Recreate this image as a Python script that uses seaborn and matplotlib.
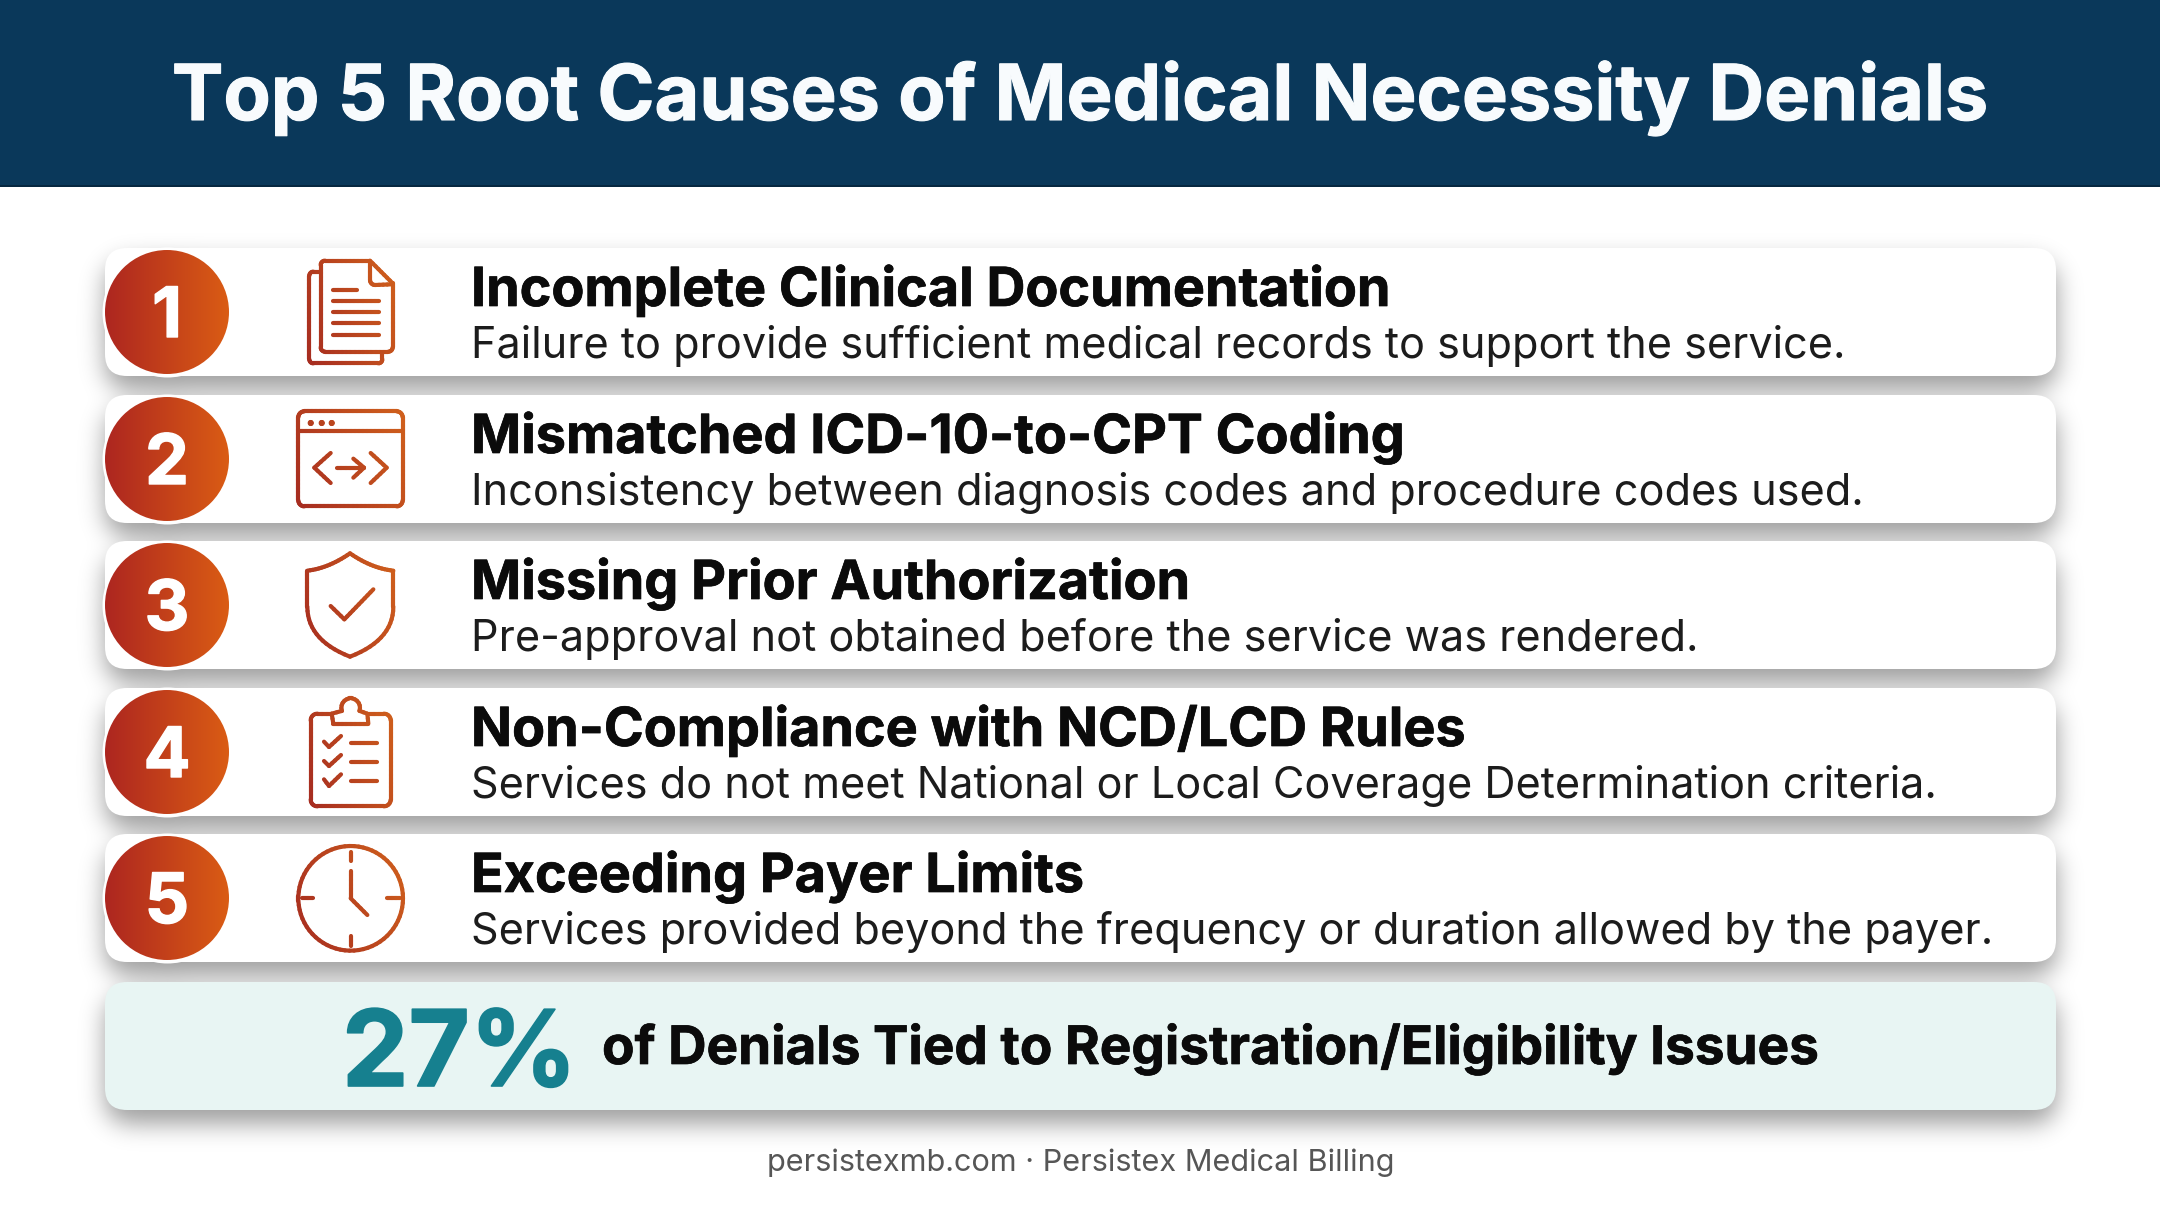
import numpy as np
import pandas as pd
import matplotlib
matplotlib.use("Agg")
import matplotlib.pyplot as plt
import matplotlib.patheffects as pe
import seaborn as sns
from matplotlib.collections import LineCollection
from matplotlib.colors import to_rgb
from matplotlib.patches import Circle, FancyBboxPatch, Rectangle

heading = "Top 5 Root Causes of Medical Necessity Denials"
ranks = [1, 2, 3, 4, 5]
causes = [
    "Incomplete Clinical Documentation",
    "Mismatched ICD-10-to-CPT Coding",
    "Missing Prior Authorization",
    "Non-Compliance with NCD/LCD Rules",
    "Exceeding Payer Limits",
]
details = [
    "Failure to provide sufficient medical records to support the service.",
    "Inconsistency between diagnosis codes and procedure codes used.",
    "Pre-approval not obtained before the service was rendered.",
    "Services do not meet National or Local Coverage Determination criteria.",
    "Services provided beyond the frequency or duration allowed by the payer.",
]
stat_value = "27%"
stat_text = "of Denials Tied to Registration/Eligibility Issues"
footer = "persistexmb.com · Persistex Medical Billing"

W, H = 2160, 1206
row_tops = [248, 395, 541, 688, 834]
card_h = 128
card_left, card_right = 105, 2056
badge_x = 167
badge_r = 62
icon_x = 350
text_x = 471
navy = "#0a385a"
dark_red = "#ad2620"
orange = "#da5c14"
teal = "#16808f"

sns.set_theme(style="white")
plt.rcParams["font.family"] = ["Inter", "DejaVu Sans"]

fig = plt.figure(figsize=(W / 100, H / 100), dpi=100, facecolor="white")
ax = fig.add_axes([0, 0, 1, 1])
ax.set_xlim(0, W)
ax.set_ylim(H, 0)
ax.axis("off")


def heavier(width, color):
    return [pe.withStroke(linewidth=width, foreground=color)]


def rounded_mask(x0, y0, x1, y1, r):
    yy, xx = np.mgrid[0:H, 0:W]
    dx = np.maximum(np.maximum(x0 + r - xx, xx - (x1 - r)), 0)
    dy = np.maximum(np.maximum(y0 + r - yy, yy - (y1 - r)), 0)
    return (dx**2 + dy**2 <= r**2).astype(float)


def blur(img, sigma):
    fy = np.fft.fftfreq(img.shape[0])[:, None]
    fx = np.fft.rfftfreq(img.shape[1])[None, :]
    g = np.exp(-2 * (np.pi * sigma) ** 2 * (fx**2 + fy**2))
    return np.fft.irfft2(np.fft.rfft2(img) * g, s=img.shape)


# soft shadow under the cards and badges
mask = np.zeros((H, W))
for top in row_tops + [982]:
    mask = np.maximum(mask, rounded_mask(card_left, top, card_right, top + card_h, 22))
for top in row_tops:
    mask = np.maximum(mask, rounded_mask(badge_x - 64, top - 2, badge_x + 64, top + 130, 64))
shadow = np.clip(blur(np.roll(mask, 13, axis=0), 12), 0, 1)
rgba = np.zeros((H, W, 4))
rgba[..., 3] = shadow * 0.38
ax.imshow(rgba, extent=(0, W, H, 0), aspect="auto", zorder=1, interpolation="nearest")

ax.add_patch(Rectangle((0, 0), W, 187, fc=navy, ec="none", zorder=2))
ax.add_patch(Rectangle((0, 185), W, 2, fc="#062740", ec="none", zorder=2))
ax.text(W / 2, 120, heading, color="#f8fbfd", fontsize=55.6, fontweight="bold",
        ha="center", va="baseline", zorder=6, path_effects=heavier(0.8, "#f8fbfd"))


def card(top, color):
    ax.add_patch(FancyBboxPatch((card_left + 22, top + 22), card_right - card_left - 44, card_h - 44,
                                boxstyle="round,pad=22,rounding_size=22", fc=color, ec="none", zorder=2))


for top in row_tops:
    card(top, "white")
card(982, "#e8f5f3")

# white rings of the badges come from a scatter on the row centres
centres = pd.DataFrame({"rank": ranks, "x": badge_x, "y": [t + card_h / 2 for t in row_tops]})
sns.scatterplot(data=centres, x="x", y="y", s=(2 * 65 * 0.72) ** 2, color="white",
                linewidth=0, legend=False, ax=ax, zorder=3)
ax.set_xlim(0, W)
ax.set_ylim(H, 0)
ax.set_xlabel("")
ax.set_ylabel("")

c0, c1 = np.array(to_rgb(dark_red)), np.array(to_rgb(orange))
ramp = np.linspace(0, 1, 128)[:, None]
ramp_img = (c0 * (1 - ramp) + c1 * ramp)[None, :, :]
for rank, cy in zip(ranks, centres["y"]):
    im = ax.imshow(ramp_img, extent=(badge_x - badge_r, badge_x + badge_r, cy + badge_r, cy - badge_r),
                   aspect="auto", zorder=4, interpolation="bilinear")
    im.set_clip_path(Circle((badge_x, cy), badge_r, transform=ax.transData))
    ax.text(badge_x, cy + 25, str(rank), color="white", fontsize=50, fontweight="bold",
            ha="center", va="baseline", zorder=6, path_effects=heavier(1.0, "white"))
ax.set_xlim(0, W)
ax.set_ylim(H, 0)


# icons are sketched in 3x zoom units around their own centre
def arc(cx, cy, r, a0, a1, n=24):
    t = np.radians(np.linspace(a0, a1, n))
    return list(zip(cx + r * np.cos(t), cy + r * np.sin(t)))


def rrect(x0, y0, x1, y1, r):
    return (arc(x1 - r, y0 + r, r, -90, 0, 8) + arc(x1 - r, y1 - r, r, 0, 90, 8)
            + arc(x0 + r, y1 - r, r, 90, 180, 8) + arc(x0 + r, y0 + r, r, 180, 270, 8)
            + [(x1 - r, y0)])


def bez(p0, p1, p2, n=16):
    t = np.linspace(0, 1, n)[:, None]
    return [tuple(v) for v in (1 - t) ** 2 * np.array(p0) + 2 * t * (1 - t) * np.array(p1) + t**2 * np.array(p2)]


doc = [
    [(736, 92), (870, 92), (938, 160), (938, 352)] + arc(925, 352, 13, 0, 90, 6) + [(735, 365)]
    + arc(735, 352, 13, 90, 180, 6) + [(722, 105)] + arc(735, 105, 13, 180, 270, 6),
    [(870, 96), (870, 140)] + arc(885, 150, 15, 180, 90, 6) + [(934, 163)],
    [(718, 125), (700, 125)] + arc(700, 137, 12, 270, 180, 6) + [(688, 388)]
    + arc(700, 388, 12, 180, 90, 6) + [(895, 400)] + arc(895, 388, 12, 90, 0, 6) + [(907, 368)],
    [(760, 180), (830, 180)], [(760, 213), (898, 213)], [(760, 246), (898, 246)],
    [(760, 280), (898, 280)], [(760, 314), (898, 314)],
]
browser = [
    rrect(655, 543, 968, 828, 18),
    [(655, 603), (968, 603)],
    arc(692, 578, 3, 0, 360, 8), arc(725, 578, 3, 0, 360, 8), arc(755, 578, 3, 0, 360, 8),
    [(752, 668), (703, 712), (752, 758)], [(872, 668), (920, 712), (872, 758)],
    [(770, 712), (852, 712)], [(820, 685), (852, 712), (820, 742)],
]
shield = [
    bez((810, 70), (875, 115), (940, 122)) + [(940, 230)] + bez((940, 230), (940, 330), (810, 380))
    + bez((810, 380), (682, 330), (682, 230)) + [(682, 122)] + bez((682, 122), (745, 115), (810, 70)),
    [(752, 228), (793, 268), (880, 178)],
]
clipboard = [
    [(755, 548), (712, 548)] + arc(712, 568, 20, 270, 180, 6) + [(692, 806)] + arc(712, 806, 20, 180, 90, 6)
    + [(912, 826)] + arc(912, 806, 20, 90, 0, 6) + [(932, 568)] + arc(912, 568, 20, 0, -90, 6) + [(868, 548)],
    [(760, 578), (755, 548)] + [(785, 540)] + arc(812, 530, 28, 160, 380, 14) + [(862, 548), (865, 578), (760, 578)],
    [(732, 632), (747, 648), (783, 615)], [(732, 690), (747, 705), (783, 672)], [(732, 745), (747, 765), (783, 730)],
    [(812, 635), (892, 635)], [(812, 692), (892, 692)], [(812, 750), (892, 750)],
]
clock = [
    arc(812, 1105, 157, 0, 360, 72),
    [(812, 965), (812, 992)], [(812, 1218), (812, 1248)], [(665, 1105), (700, 1105)], [(922, 1105), (960, 1105)],
    [(812, 1022), (812, 1105), (862, 1155)],
]
icons = [(doc, 246), (browser, 686), (shield, 225), (clipboard, 663), (clock, 1104)]
icon_c0, icon_c1 = np.array(to_rgb("#a62c20")), np.array(to_rgb("#d0601c"))


def draw_icon(strokes, zoom_cy, cy):
    pts = [(icon_x + (np.array(s)[:, 0] - 810) / 3, cy + (np.array(s)[:, 1] - zoom_cy) / 3) for s in strokes]
    xmin = min(p[0].min() for p in pts)
    xmax = max(p[0].max() for p in pts)
    ymin = min(p[1].min() for p in pts)
    ymax = max(p[1].max() for p in pts)
    segs, cols = [], []
    for xs, ys in pts:
        for i in range(len(xs) - 1):
            n = max(int(np.hypot(xs[i + 1] - xs[i], ys[i + 1] - ys[i]) // 4), 1)
            px = np.linspace(xs[i], xs[i + 1], n + 1)
            py = np.linspace(ys[i], ys[i + 1], n + 1)
            for j in range(n):
                # dark at the lower left, orange towards the upper right
                t = 0.7 * (px[j] - xmin) / (xmax - xmin) + 0.3 * (ymax - py[j]) / (ymax - ymin)
                segs.append([(px[j], py[j]), (px[j + 1], py[j + 1])])
                cols.append(icon_c0 * (1 - t) + icon_c1 * t)
    ax.add_collection(LineCollection(segs, colors=cols, linewidths=3.0, capstyle="round", zorder=5))


for (strokes, zoom_cy), cy in zip(icons, centres["y"]):
    draw_icon(strokes, zoom_cy, cy)

for top, cause, detail in zip(row_tops, causes, details):
    ax.text(text_x, top + 58, cause, color="#0b0b0b", fontsize=38.8, fontweight="bold",
            ha="left", va="baseline", zorder=6, path_effects=heavier(0.5, "#0b0b0b"))
    ax.text(text_x, top + 110, detail, color="#1c1c1c", fontsize=31.1,
            ha="left", va="baseline", zorder=6)

ax.text(342, 1086, stat_value, color=teal, fontsize=76, fontweight="bold", ha="left", va="baseline",
        zorder=6, path_effects=heavier(1.2, teal))
ax.text(602, 1064, stat_text, color="#0b0b0b", fontsize=38.2, fontweight="bold", ha="left", va="baseline",
        zorder=6, path_effects=heavier(0.5, "#0b0b0b"))
ax.text(1081, 1171, footer, color="#565656", fontsize=22.1, ha="center", va="baseline", zorder=6)

fig.savefig("out.png", dpi=100, facecolor="white")
plt.close(fig)
